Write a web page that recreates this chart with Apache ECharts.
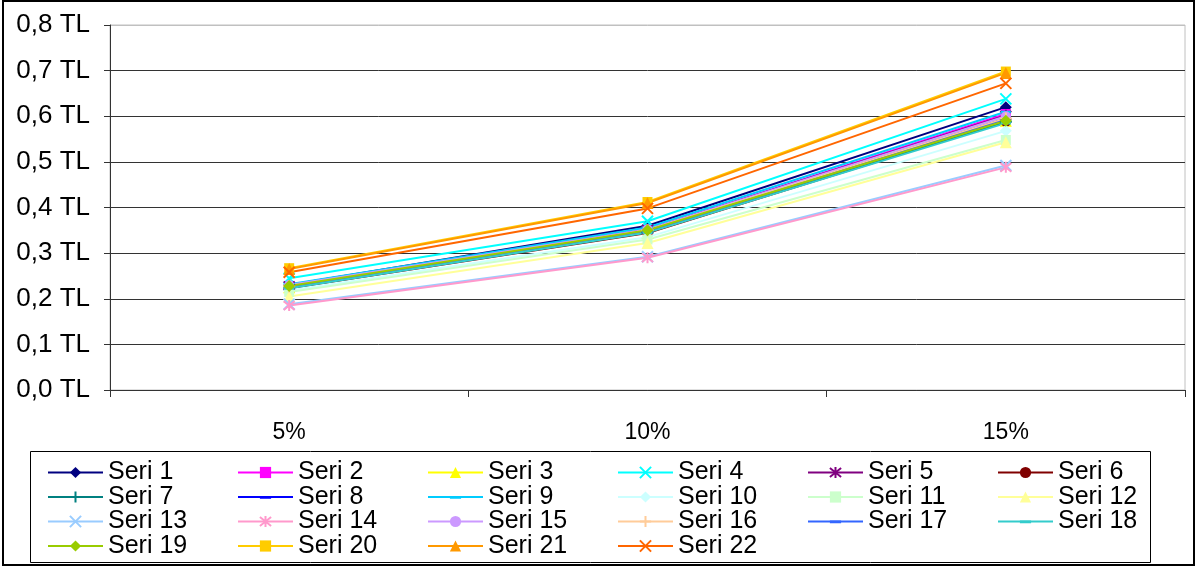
<!DOCTYPE html>
<html>
<head>
<meta charset="utf-8">
<script src="https://cdn.jsdelivr.net/npm/echarts@6/dist/echarts.min.js"></script>
<style>
  html, body { margin: 0; padding: 0; background: #fff; }
  #chart { width: 1197px; height: 567px; }
</style>
</head>
<body>
<div id="chart"></div>
<script>
// Categories (discount rate) and y tick labels
const categories = ['5%', '10%', '15%'];
const yTickLabels = ['0,0 TL', '0,1 TL', '0,2 TL', '0,3 TL', '0,4 TL', '0,5 TL', '0,6 TL', '0,7 TL', '0,8 TL'];

// Values per series (TL) at 5%, 10%, 15%
const seri1  = [0.230, 0.360, 0.620];
const seri2  = [0.228, 0.352, 0.605];
const seri3  = [0.225, 0.345, 0.590];
const seri4  = [0.245, 0.370, 0.638];
const seri5  = [0.228, 0.352, 0.602];
const seri6  = [0.223, 0.344, 0.588];
const seri7  = [0.224, 0.346, 0.588];
const seri8  = [0.226, 0.350, 0.595];
const seri9  = [0.232, 0.356, 0.610];
const seri10 = [0.218, 0.335, 0.568];
const seri11 = [0.215, 0.330, 0.548];
const seri12 = [0.205, 0.322, 0.543];
const seri13 = [0.188, 0.292, 0.492];
const seri14 = [0.185, 0.290, 0.488];
const seri15 = [0.230, 0.352, 0.600];
const seri16 = [0.227, 0.350, 0.595];
const seri17 = [0.225, 0.348, 0.592];
const seri18 = [0.223, 0.345, 0.585];
const seri19 = [0.228, 0.350, 0.590];
const seri20 = [0.267, 0.412, 0.698];
const seri21 = [0.265, 0.410, 0.695];
const seri22 = [0.258, 0.398, 0.672];

const seriesNames = ['Seri 1','Seri 2','Seri 3','Seri 4','Seri 5','Seri 6','Seri 7','Seri 8','Seri 9','Seri 10','Seri 11',
  'Seri 12','Seri 13','Seri 14','Seri 15','Seri 16','Seri 17','Seri 18','Seri 19','Seri 20','Seri 21','Seri 22'];
const seriesValues = [seri1, seri2, seri3, seri4, seri5, seri6, seri7, seri8, seri9, seri10, seri11,
  seri12, seri13, seri14, seri15, seri16, seri17, seri18, seri19, seri20, seri21, seri22];

// Marker shapes
const SYM_X = 'path://M0,0L10,10M10,0L0,10';
const SYM_STAR = 'path://M5,0L5,10M0,1L10,9M10,1L0,9';
const SYM_PLUS = 'path://M5,0L5,10M0,5L10,5';
const SYM_DASH = 'path://M0,0L0,0ZM10,10L10,10ZM0,4L10,4L10,6.5L0,6.5Z';

const markers = [
  { c: '#000080', s: 'diamond', z: 12 },
  { c: '#FF00FF', s: 'rect', z: 10 },
  { c: '#FFFF00', s: 'triangle', z: 12 },
  { c: '#00FFFF', s: SYM_X, z: 11, line: true },
  { c: '#800080', s: SYM_STAR, z: 11, line: true },
  { c: '#800000', s: 'circle', z: 10 },
  { c: '#008080', s: SYM_PLUS, z: 12, line: true },
  { c: '#0000FF', s: SYM_DASH, z: 10 },
  { c: '#00CCFF', s: SYM_DASH, z: 10 },
  { c: '#CCFFFF', s: 'diamond', z: 12 },
  { c: '#CCFFCC', s: 'rect', z: 10 },
  { c: '#FFFF99', s: 'triangle', z: 12 },
  { c: '#99CCFF', s: SYM_X, z: 11, line: true },
  { c: '#FF99CC', s: SYM_STAR, z: 11, line: true },
  { c: '#CC99FF', s: 'circle', z: 10 },
  { c: '#FFCC99', s: SYM_PLUS, z: 12, line: true },
  { c: '#3366FF', s: SYM_DASH, z: 10 },
  { c: '#33CCCC', s: SYM_DASH, z: 10 },
  { c: '#99CC00', s: 'diamond', z: 12 },
  { c: '#FFCC00', s: 'rect', z: 10 },
  { c: '#FF9900', s: 'triangle', z: 12 },
  { c: '#FF6600', s: SYM_X, z: 11, line: true }
];

const FONT = 'Liberation Sans, Arial, sans-serif';

const series = seriesNames.map((name, i) => {
  const m = markers[i];
  return {
    name: name,
    type: 'line',
    data: seriesValues[i],
    symbol: m.s,
    symbolSize: m.z,
    symbolKeepAspect: true,
    showAllSymbol: true,
    lineStyle: { color: m.c, width: 2 },
    itemStyle: { color: m.c, borderColor: m.c, borderWidth: m.line ? 2 : 0 },
    emphasis: { disabled: true },
    animation: false
  };
});

// Legend: six entries per row, one legend component per row
const legendRowCenters = [467, 491.5, 516, 540.5];
const legends = legendRowCenters.map((cy, r) => ({
  show: true,
  left: 47,
  top: cy - 7,
  orient: 'horizontal',
  padding: 0,
  itemWidth: 55,
  itemHeight: 14,
  itemGap: 10,
  selectedMode: false,
  textStyle: { color: '#000', fontFamily: FONT, fontSize: 25, width: 119, lineHeight: 14 },
  data: seriesNames.slice(r * 6, r * 6 + 6)
}));

const chart = echarts.init(document.getElementById('chart'), null, { renderer: 'canvas' });

chart.setOption({
  backgroundColor: '#ffffff',
  animation: false,
  grid: {
    left: 110, right: 12, top: 25, bottom: 177,
    show: true, borderColor: '#c0c0c0', borderWidth: 1, backgroundColor: 'transparent'
  },
  xAxis: {
    type: 'category',
    data: categories,
    boundaryGap: true,
    axisLine: { lineStyle: { color: '#333', width: 1 } },
    axisTick: { show: true, length: 7, alignWithLabel: false, lineStyle: { color: '#333' } },
    axisLabel: { color: '#000', fontFamily: FONT, fontSize: 23, margin: 31 },
    splitLine: { show: false }
  },
  yAxis: {
    type: 'value',
    min: 0, max: 0.8, interval: 0.1,
    axisLine: { show: true, lineStyle: { color: '#333', width: 1 } },
    axisTick: { show: true, length: 6, lineStyle: { color: '#333' } },
    axisLabel: {
      color: '#000', fontFamily: FONT, fontSize: 26, margin: 20,
      formatter: (v) => yTickLabels[Math.round(v * 10)]
    },
    splitLine: {
      show: true,
      lineStyle: { color: ['#333','#333','#333','#333','#333','#333','#333','#333','#c0c0c0'], width: 1 }
    }
  },
  legend: legends,
  graphic: [
    {
      type: 'rect', silent: true, z: -1,
      shape: { x: 30.5, y: 451.5, width: 1120, height: 111 },
      style: { fill: 'none', stroke: '#000', lineWidth: 1 }
    },
    {
      type: 'rect', silent: true, z: 100,
      shape: { x: 3, y: 1, width: 1191, height: 564 },
      style: { fill: 'none', stroke: '#000', lineWidth: 2 }
    }
  ],
  series: series
});
</script>
</body>
</html>
